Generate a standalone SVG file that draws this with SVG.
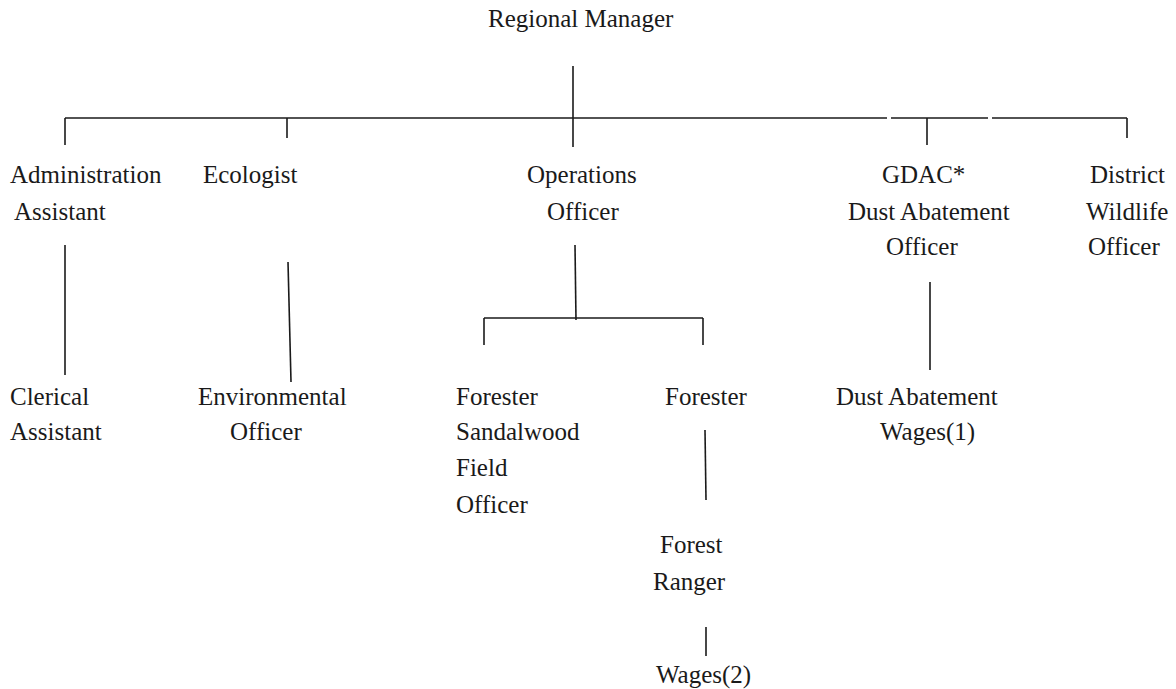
<svg xmlns="http://www.w3.org/2000/svg" width="1176" height="689" viewBox="0 0 1176 689">
<style>
text{font-family:"Liberation Serif","Times New Roman",serif;font-size:25px;fill:#1a1a1a}
.c line{stroke:#1a1a1a;stroke-width:1.6;fill:none}
</style>
<rect width="1176" height="689" fill="#fff"/>
<g class="c" id="connectors">
<line x1="573" y1="66" x2="573" y2="147"/>
<line x1="65" y1="118" x2="887" y2="118"/>
<line x1="891" y1="118" x2="988" y2="118"/>
<line x1="992" y1="118" x2="1127" y2="118"/>
<line x1="65" y1="118" x2="65" y2="145"/>
<line x1="287" y1="118" x2="287" y2="138"/>
<line x1="927" y1="118" x2="927" y2="145"/>
<line x1="1127" y1="118" x2="1127" y2="138"/>
<line x1="65" y1="245" x2="65" y2="375"/>
<line x1="288" y1="262" x2="291" y2="382"/>
<line x1="575" y1="245" x2="576" y2="320"/>
<line x1="484" y1="318" x2="703" y2="318"/>
<line x1="484" y1="318" x2="484" y2="345"/>
<line x1="703" y1="318" x2="703" y2="345"/>
<line x1="705" y1="430" x2="706" y2="500"/>
<line x1="706" y1="627" x2="706" y2="656"/>
<line x1="930" y1="282" x2="930" y2="370"/>
</g>
<g id="regional-manager"><text x="488" y="27">Regional Manager</text></g>
<g id="admin-assistant"><text x="10" y="183">Administration</text><text x="14" y="220">Assistant</text></g>
<g id="ecologist"><text x="203" y="183">Ecologist</text></g>
<g id="operations-officer"><text x="527" y="183">Operations</text><text x="547" y="220">Officer</text></g>
<g id="gdac"><text x="882" y="183">GDAC*</text><text x="848" y="220">Dust Abatement</text><text x="886" y="255">Officer</text></g>
<g id="district-wildlife"><text x="1090" y="183">District</text><text x="1086" y="220">Wildlife</text><text x="1088" y="255">Officer</text></g>
<g id="clerical-assistant"><text x="10" y="405">Clerical</text><text x="10" y="440">Assistant</text></g>
<g id="environmental-officer"><text x="198" y="405">Environmental</text><text x="230" y="440">Officer</text></g>
<g id="forester-sandalwood"><text x="456" y="405">Forester</text><text x="456" y="440">Sandalwood</text><text x="456" y="476">Field</text><text x="456" y="513">Officer</text></g>
<g id="forester"><text x="665" y="405">Forester</text></g>
<g id="dust-abatement-wages"><text x="836" y="405">Dust Abatement</text><text x="880" y="440">Wages(1)</text></g>
<g id="forest-ranger"><text x="660" y="553">Forest</text><text x="653" y="590">Ranger</text></g>
<g id="wages2"><text x="656" y="683">Wages(2)</text></g>
</svg>
